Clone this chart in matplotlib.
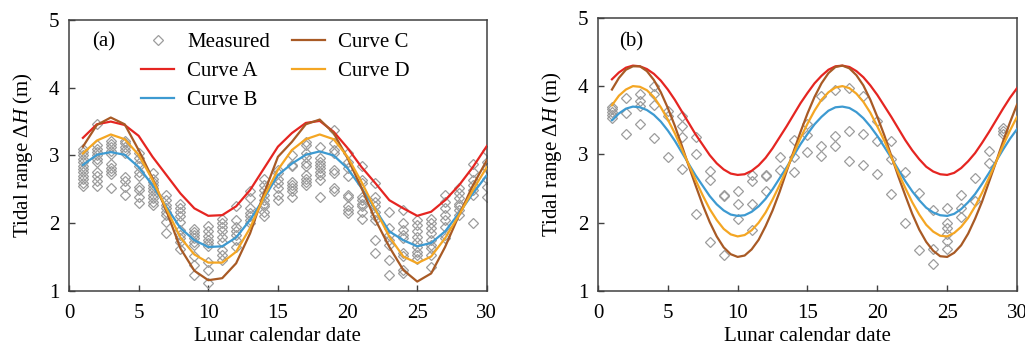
import matplotlib.pyplot as plt

plt.rcParams['font.family'] = ['Liberation Serif', 'DejaVu Serif']
plt.rcParams['mathtext.fontset'] = 'custom'
plt.rcParams['mathtext.rm'] = 'Liberation Serif'
plt.rcParams['mathtext.it'] = 'Liberation Serif:italic'

# ---- panel (a): fitted curves at each lunar day ----
days_a = list(range(1, 31))
curve_a_a = [3.26, 3.46, 3.50, 3.45, 3.29, 2.98, 2.71, 2.44, 2.22, 2.11,
             2.12, 2.25, 2.49, 2.81, 3.13, 3.33, 3.48, 3.51, 3.35, 3.11,
             2.83, 2.59, 2.34, 2.22, 2.11, 2.17, 2.34, 2.56, 2.83, 3.14]
curve_b_a = [2.86, 3.01, 3.05, 3.01, 2.83, 2.56, 2.24, 1.93, 1.75, 1.65,
             1.66, 1.79, 2.05, 2.37, 2.71, 2.88, 3.01, 3.06, 3.00, 2.81,
             2.52, 2.20, 1.88, 1.75, 1.66, 1.71, 1.88, 2.15, 2.44, 2.71]
curve_d_a = [3.03, 3.22, 3.31, 3.24, 3.01, 2.64, 2.21, 1.79, 1.54, 1.42,
             1.42, 1.58, 1.93, 2.39, 2.79, 3.08, 3.24, 3.31, 3.24, 2.98,
             2.61, 2.20, 1.80, 1.51, 1.41, 1.51, 1.78, 2.12, 2.49, 2.83]
curve_c_a = [3.13, 3.45, 3.56, 3.46, 3.08, 2.66, 2.18, 1.63, 1.30, 1.16,
             1.19, 1.41, 1.85, 2.44, 2.98, 3.20, 3.46, 3.53, 3.33, 2.96,
             2.52, 2.05, 1.65, 1.31, 1.14, 1.26, 1.65, 2.12, 2.56, 2.93]

# measured tidal ranges, one list per lunar day 1..30
meas_a = [
    [3.10, 3.05, 3.00, 2.95, 2.90, 2.85, 2.80, 2.75, 2.70, 2.65, 2.60, 2.55],
    [3.47, 3.15, 3.10, 3.05, 3.00, 2.95, 2.90, 2.76, 2.70, 2.62, 2.55],
    [3.22, 3.17, 3.12, 3.07, 3.02, 2.87, 2.82, 2.77, 2.72, 2.52],
    [3.22, 3.18, 3.13, 3.08, 3.03, 2.68, 2.63, 2.53, 2.42],
    [3.03, 2.96, 2.89, 2.84, 2.76, 2.69, 2.53, 2.49, 2.39, 2.30],
    [2.74, 2.66, 2.61, 2.56, 2.52, 2.47, 2.42, 2.37, 2.32, 2.27],
    [2.42, 2.35, 2.27, 2.22, 2.17, 2.12, 2.02, 1.85],
    [2.29, 2.23, 2.17, 2.10, 2.02, 1.90, 1.83, 1.78, 1.73, 1.62],
    [1.92, 1.87, 1.82, 1.78, 1.73, 1.68, 1.51, 1.38, 1.24],
    [1.96, 1.89, 1.81, 1.76, 1.71, 1.67, 1.43, 1.31, 1.12],
    [2.07, 2.01, 1.95, 1.88, 1.80, 1.73, 1.60, 1.53, 1.46],
    [2.26, 2.05, 1.95, 1.88, 1.83, 1.75, 1.65],
    [2.47, 2.37, 2.22, 2.15, 2.10, 2.05, 2.00],
    [2.65, 2.57, 2.49, 2.42, 2.34, 2.29, 2.25, 2.17, 2.10],
    [2.79, 2.74, 2.66, 2.59, 2.52, 2.42, 2.34],
    [3.01, 2.86, 2.84, 2.61, 2.57, 2.52, 2.47, 2.39],
    [3.20, 3.16, 3.03, 2.98, 2.89, 2.84, 2.71, 2.66, 2.61, 2.57],
    [3.13, 2.96, 2.91, 2.86, 2.81, 2.76, 2.71, 2.64, 2.39],
    [3.37, 3.18, 3.08, 3.03, 2.79, 2.74, 2.52, 2.47],
    [3.03, 2.91, 2.81, 2.69, 2.42, 2.39, 2.25, 2.20, 2.15],
    [2.84, 2.64, 2.59, 2.39, 2.34, 2.29, 2.25, 2.17, 2.07],
    [2.59, 2.39, 2.32, 2.25, 2.17, 2.10, 2.05, 1.75, 1.56],
    [2.17, 1.93, 1.83, 1.75, 1.68, 1.46, 1.24],
    [2.20, 2.00, 1.90, 1.83, 1.78, 1.56, 1.51, 1.31, 1.26],
    [2.05, 1.97, 1.88, 1.80, 1.73, 1.65, 1.58, 1.53, 1.48],
    [2.07, 2.00, 1.93, 1.85, 1.75, 1.68, 1.63, 1.53, 1.36],
    [2.42, 2.32, 2.22, 2.12, 2.05, 1.95, 1.83, 1.78],
    [2.52, 2.44, 2.37, 2.29, 2.25, 2.20, 2.12],
    [2.88, 2.76, 2.64, 2.57, 2.49, 2.42, 2.00],
    [3.06, 2.91, 2.81, 2.66, 2.54, 2.39],
]

# ---- panel (b): curves read every half day ----
days_b = [1 + 0.5 * i for i in range(59)]
curve_a_b = [4.10, 4.20, 4.27, 4.30, 4.29, 4.25, 4.18, 4.08, 3.95, 3.80,
             3.63, 3.46, 3.29, 3.14, 2.99, 2.87, 2.78, 2.72, 2.70, 2.71,
             2.76, 2.84, 2.95, 3.09, 3.25, 3.41, 3.58, 3.75, 3.90, 4.04,
             4.15, 4.24, 4.29, 4.30, 4.28, 4.22, 4.13, 4.01, 3.87, 3.71,
             3.55, 3.38, 3.21, 3.06, 2.93, 2.82, 2.75, 2.71, 2.70, 2.73,
             2.80, 2.90, 3.02, 3.17, 3.33, 3.50, 3.67, 3.83, 3.97]
curve_b_b = [3.50, 3.60, 3.67, 3.70, 3.69, 3.65, 3.58, 3.48, 3.35, 3.20,
             3.03, 2.86, 2.69, 2.54, 2.39, 2.27, 2.18, 2.12, 2.10, 2.11,
             2.16, 2.24, 2.35, 2.49, 2.65, 2.81, 2.98, 3.15, 3.30, 3.44,
             3.55, 3.64, 3.69, 3.70, 3.68, 3.62, 3.53, 3.41, 3.27, 3.11,
             2.95, 2.78, 2.61, 2.46, 2.33, 2.22, 2.15, 2.11, 2.10, 2.13,
             2.20, 2.30, 2.42, 2.57, 2.73, 2.90, 3.07, 3.23, 3.37]
curve_d_b = [3.72, 3.86, 3.95, 4.00, 3.99, 3.94, 3.84, 3.69, 3.51, 3.31,
             3.08, 2.85, 2.62, 2.40, 2.20, 2.04, 1.91, 1.83, 1.80, 1.82,
             1.89, 2.00, 2.15, 2.34, 2.55, 2.78, 3.01, 3.24, 3.45, 3.64,
             3.80, 3.91, 3.98, 4.00, 3.97, 3.89, 3.77, 3.61, 3.41, 3.20,
             2.96, 2.73, 2.51, 2.30, 2.12, 1.97, 1.87, 1.81, 1.80, 1.85,
             1.94, 2.07, 2.24, 2.44, 2.66, 2.89, 3.13, 3.35, 3.55]
curve_c_b = [3.95, 4.12, 4.24, 4.29, 4.29, 4.22, 4.09, 3.91, 3.68, 3.42,
             3.13, 2.83, 2.54, 2.26, 2.01, 1.80, 1.64, 1.54, 1.50, 1.52,
             1.61, 1.75, 1.95, 2.18, 2.45, 2.75, 3.04, 3.33, 3.60, 3.84,
             4.04, 4.19, 4.28, 4.30, 4.26, 4.16, 4.01, 3.80, 3.55, 3.28,
             2.98, 2.68, 2.40, 2.13, 1.90, 1.72, 1.59, 1.51, 1.50, 1.56,
             1.67, 1.84, 2.06, 2.31, 2.60, 2.89, 3.19, 3.47, 3.73]

meas_b = [
    [3.70, 3.66, 3.62, 3.58, 3.54],
    [3.83, 3.61, 3.30],
    [3.88, 3.78, 3.71, 3.44],
    [4.00, 3.88, 3.73, 3.24],
    [3.63, 3.56, 2.96],
    [3.56, 3.42, 3.25, 2.78],
    [3.25, 3.00, 2.13],
    [2.76, 2.62, 1.72],
    [2.40, 2.39, 1.53],
    [2.46, 2.28, 2.06],
    [2.70, 2.61, 2.28, 1.89],
    [2.70, 2.69, 2.46],
    [2.96, 2.77],
    [3.21, 2.96, 2.75],
    [3.45, 3.28, 3.03],
    [3.85, 3.13, 2.98],
    [3.95, 3.27, 3.12],
    [3.97, 3.35, 2.90],
    [3.85, 3.30, 2.84],
    [3.49, 3.19, 2.71],
    [3.19, 2.93, 2.42],
    [2.74, 2.00],
    [2.44, 1.60],
    [2.19, 1.62, 1.40],
    [2.21, 2.00, 1.93, 1.83, 1.73, 1.62],
    [2.40, 2.22, 2.08],
    [2.65, 2.32],
    [3.05, 2.87],
    [3.39, 3.35, 3.30],
]

col_a = '#e52521'
col_b = '#3d9ad1'
col_c = '#a85a25'
col_d = '#f4a623'
col_m = '#9c9c9c'
spine_col = '#404040'
fs = 15


def flatten(meas):
    xs, ys = [], []
    for i, vals in enumerate(meas):
        for v in vals:
            xs.append(i + 1)
            ys.append(v)
    return xs, ys


def style_axes(ax):
    ax.set_xlim(0, 30)
    ax.set_ylim(1, 5)
    ax.set_xticks(range(0, 31, 5))
    ax.set_yticks(range(1, 6))
    ax.tick_params(direction='in', length=4, width=1, labelsize=fs,
                   color=spine_col, top=False, right=False)
    ax.tick_params(axis='x', pad=9)
    ax.tick_params(axis='y', pad=7)
    for s in ax.spines.values():
        s.set_color(spine_col)
        s.set_linewidth(1.1)
    ax.set_xlabel('Lunar calendar date', fontsize=fs, labelpad=3)
    ax.set_ylabel(r'Tidal range Δ$\mathit{H}$ (m)', fontsize=fs, labelpad=10)


fig = plt.figure(figsize=(10.25, 3.49), dpi=100)
ax1 = fig.add_axes([0.0673, 0.166, 0.4077, 0.777])
ax2 = fig.add_axes([0.5834, 0.166, 0.4088, 0.783])

lw = 1.6
for ax, days, ca, cb, cc, cd, meas in [
        (ax1, days_a, curve_a_a, curve_b_a, curve_c_a, curve_d_a, meas_a),
        (ax2, days_b, curve_a_b, curve_b_b, curve_c_b, curve_d_b, meas_b)]:
    mx, my = flatten(meas)
    ax.plot(mx, my, linestyle='none', marker='D', markersize=4.6,
            markerfacecolor='none', markeredgecolor=col_m,
            markeredgewidth=0.9, label='Measured', zorder=2)
    ax.plot(days, ca, color=col_a, lw=lw, label='Curve A', zorder=3)
    ax.plot(days, cb, color=col_b, lw=lw, label='Curve B', zorder=3)
    ax.plot(days, cc, color=col_c, lw=lw, label='Curve C', zorder=3)
    ax.plot(days, cd, color=col_d, lw=lw, label='Curve D', zorder=3)
    style_axes(ax)

ax1.text(0.055, 0.92, '(a)', transform=ax1.transAxes, fontsize=fs,
         ha='left', va='center')
ax2.text(0.05, 0.912, '(b)', transform=ax2.transAxes, fontsize=fs,
         ha='left', va='center')

ax1.legend(ncol=2, frameon=False, fontsize=fs, loc='upper left',
           bbox_to_anchor=(0.172, 0.952), borderaxespad=0, borderpad=0,
           handlelength=1.6, handletextpad=0.62, columnspacing=1.05,
           labelspacing=0.45)

fig.savefig('out.png', dpi=100)
